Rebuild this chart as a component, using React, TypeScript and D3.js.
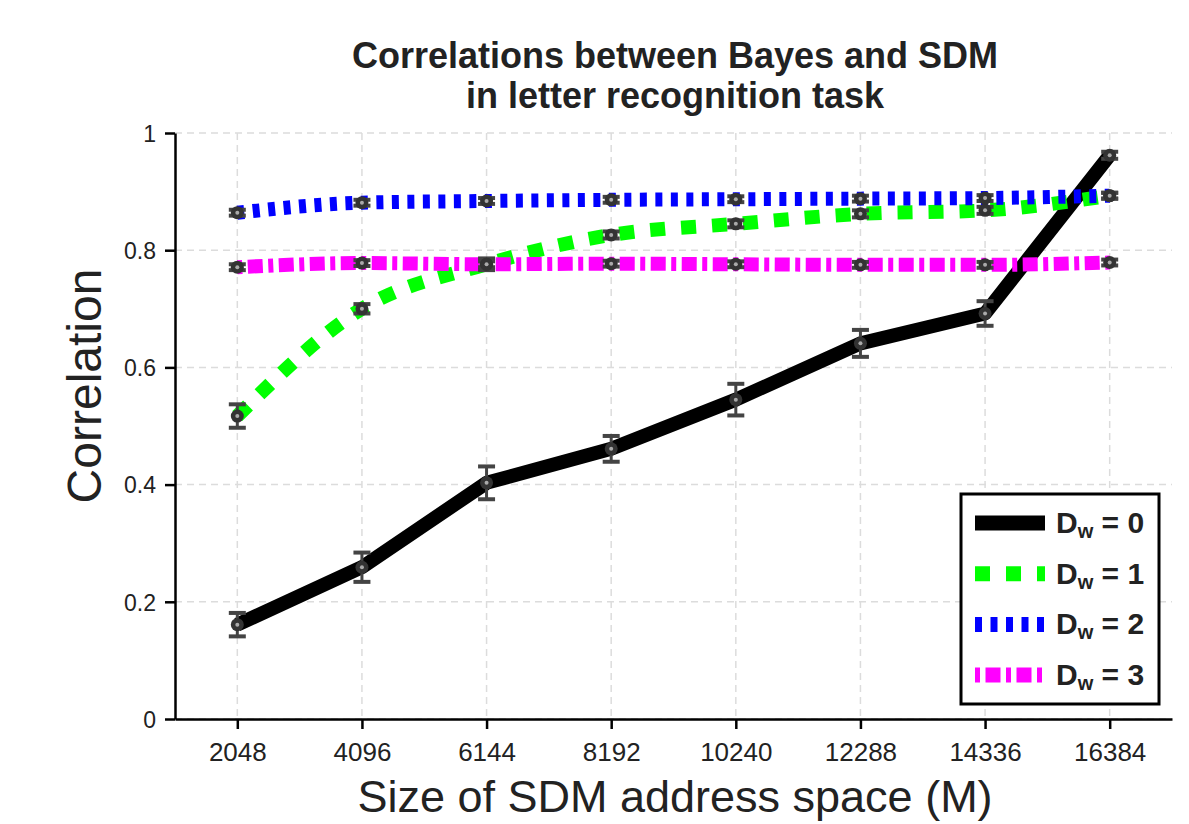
import React, { useEffect, useRef } from "react";
import * as d3 from "d3";

const sizes = [2048, 4096, 6144, 8192, 10240, 12288, 14336, 16384];
const dw0 = [0.161, 0.259, 0.403, 0.461, 0.545, 0.641, 0.692, 0.962];
const dw0Err = [0.02, 0.025, 0.028, 0.022, 0.027, 0.023, 0.021, 0.006];
const dw1 = [0.517, 0.7, 0.776, 0.826, 0.845, 0.862, 0.868, 0.893];
const dw1Err = [0.02, 0.008, 0.01, 0.006, 0.006, 0.006, 0.006, 0.005];
const dw2 = [0.864, 0.881, 0.884, 0.886, 0.887, 0.888, 0.889, 0.893];
const dw2Err = [0.005, 0.005, 0.005, 0.005, 0.005, 0.005, 0.005, 0.005];
const dw3 = [0.771, 0.778, 0.776, 0.777, 0.776, 0.775, 0.775, 0.779];
const dw3Err = [0.005, 0.005, 0.005, 0.005, 0.005, 0.005, 0.005, 0.005];
const yTicks = [0, 0.2, 0.4, 0.6, 0.8, 1];
const yTickLabels = ["0", "0.2", "0.4", "0.6", "0.8", "1"];

const W = 1189;
const H = 824;

const App: React.FC = () => {
  const ref = useRef<SVGSVGElement | null>(null);

  useEffect(() => {
    const svg = d3.select(ref.current);
    svg.selectAll("*").remove();

    const x = d3.scaleLinear().domain([1024, 17408]).range([175, 1172]);
    const y = d3.scaleLinear().domain([0, 1]).range([719, 133]);
    const font = "'Liberation Sans', Arial, Helvetica, sans-serif";

    const series = [
      { d: "0", vals: dw0, err: dw0Err, color: "#000000", dash: "none", off: 0, curve: d3.curveLinear },
      { d: "1", vals: dw1, err: dw1Err, color: "#00ff00", dash: "15,16", off: 0, curve: d3.curveMonotoneX },
      { d: "2", vals: dw2, err: dw2Err, color: "#0000ff", dash: "7,8.5", off: 0, curve: d3.curveMonotoneX },
      { d: "3", vals: dw3, err: dw3Err, color: "#ff00ff", dash: "15,5.5,5,5.5", off: 20.5, curve: d3.curveMonotoneX },
    ];

    // grid
    const grid = svg.append("g");
    grid
      .selectAll("line.vg")
      .data(sizes)
      .enter()
      .append("line")
      .attr("x1", d => x(d))
      .attr("x2", d => x(d))
      .attr("y1", y(1))
      .attr("y2", y(0))
      .attr("stroke", "#dcdcdc")
      .attr("stroke-width", 1.5)
      .attr("stroke-dasharray", "7,5");
    grid
      .selectAll("line.hg")
      .data(yTicks)
      .enter()
      .append("line")
      .attr("x1", x(1024))
      .attr("x2", x(17408))
      .attr("y1", d => y(d))
      .attr("y2", d => y(d))
      .attr("stroke", "#dcdcdc")
      .attr("stroke-width", 1.5)
      .attr("stroke-dasharray", "7,5");

    // axes
    const xAxis = svg
      .append("g")
      .attr("transform", `translate(0,${y(0)})`)
      .call(d3.axisBottom(x).tickValues(sizes).tickSize(10).tickSizeOuter(0).tickPadding(14).tickFormat(d => String(d)));
    const yAxis = svg
      .append("g")
      .attr("transform", `translate(${x(1024)},0)`)
      .call(
        d3.axisLeft(y).tickValues(yTicks).tickSize(10).tickSizeOuter(0).tickPadding(9)
          .tickFormat((d, i) => yTickLabels[i])
      );
    [xAxis, yAxis].forEach(a => {
      a.select(".domain").attr("stroke", "#000").attr("stroke-width", 2.5);
      a.selectAll(".tick line").attr("stroke", "#000").attr("stroke-width", 2.5);
      a.selectAll(".tick text").attr("fill", "#222").attr("font-family", font);
    });
    xAxis.selectAll(".tick text").attr("font-size", 26);
    yAxis.selectAll(".tick text").attr("font-size", 23).attr("dy", "0.36em");

    // lines
    const lines = svg.append("g");
    series.forEach(s => {
      const line = d3
        .line<number>()
        .x((_, i) => x(sizes[i]))
        .y(v => y(v))
        .curve(s.curve);
      lines
        .append("path")
        .attr("d", line(s.vals))
        .attr("fill", "none")
        .attr("stroke", s.color)
        .attr("stroke-width", 14)
        .attr("stroke-dasharray", s.dash)
        .attr("stroke-dashoffset", s.off)
        .attr("stroke-linejoin", "round");
    });

    // error bars and markers
    const marks = svg.append("g");
    series.forEach(s => {
      s.vals.forEach((v, i) => {
        const cx = x(sizes[i]);
        const top = y(v + s.err[i]);
        const bot = y(v - s.err[i]);
        marks.append("line").attr("x1", cx).attr("x2", cx).attr("y1", top).attr("y2", bot)
          .attr("stroke", "#444").attr("stroke-width", 3);
        [top, bot].forEach(yy => {
          marks.append("line").attr("x1", cx - 8.5).attr("x2", cx + 8.5).attr("y1", yy).attr("y2", yy)
            .attr("stroke", "#444").attr("stroke-width", 4);
        });
      });
    });
    series.forEach(s => {
      s.vals.forEach((v, i) => {
        marks.append("circle").attr("cx", x(sizes[i])).attr("cy", y(v)).attr("r", 6.5).attr("fill", "#333");
        marks.append("circle").attr("cx", x(sizes[i])).attr("cy", y(v)).attr("r", 2).attr("fill", "#aaa");
      });
    });

    // legend
    const lg = svg.append("g");
    lg.append("rect")
      .attr("x", 961).attr("y", 494).attr("width", 198).attr("height", 210)
      .attr("fill", "#fff").attr("stroke", "#000").attr("stroke-width", 3);
    series.forEach((s, i) => {
      const ly = 523 + i * 50.7;
      lg.append("line")
        .attr("x1", 975).attr("x2", 1045).attr("y1", ly).attr("y2", ly)
        .attr("stroke", s.color).attr("stroke-width", 15)
        .attr("stroke-dasharray", s.dash).attr("stroke-dashoffset", s.off);
      const t = lg.append("text")
        .attr("x", 1056).attr("y", ly + 10)
        .attr("font-family", font).attr("font-weight", "bold").attr("font-size", 30).attr("fill", "#222");
      t.append("tspan").text("D");
      t.append("tspan").attr("font-size", 20).attr("dy", 5).text("w");
      t.append("tspan").attr("dy", -5).text(` = ${s.d}`);
    });

    // titles
    const title = svg.append("text")
      .attr("text-anchor", "middle").attr("font-family", font).attr("font-weight", "bold")
      .attr("font-size", 36).attr("fill", "#222");
    title.append("tspan").attr("x", 675).attr("y", 68).text("Correlations between Bayes and SDM");
    title.append("tspan").attr("x", 675).attr("y", 108).text("in letter recognition task");

    svg.append("text")
      .attr("x", 675).attr("y", 812).attr("text-anchor", "middle")
      .attr("font-family", font).attr("font-size", 45).attr("fill", "#222")
      .text("Size of SDM address space (M)");

    svg.append("text")
      .attr("transform", `translate(101,386) rotate(-90)`)
      .attr("text-anchor", "middle")
      .attr("font-family", font).attr("font-size", 48).attr("fill", "#222")
      .text("Correlation");
  }, []);

  return (
    <svg
      ref={ref}
      width={W}
      height={H}
      style={{ position: "absolute", left: 0, top: 0, background: "#fff" }}
    />
  );
};

export default App;
